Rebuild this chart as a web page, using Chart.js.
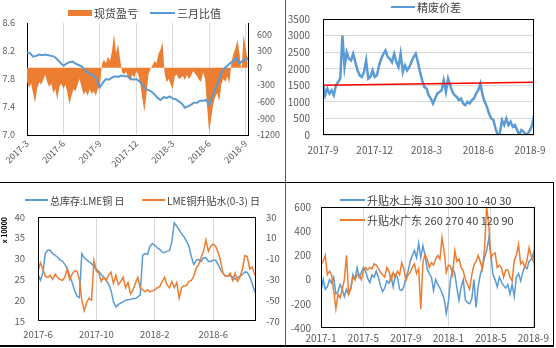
<!DOCTYPE html>
<html>
<head>
<meta charset="utf-8">
<script src="https://cdn.jsdelivr.net/npm/chart.js@4.4.0/dist/chart.umd.min.js"></script>
<style>
	body { margin: 0; background: #fff; }
	#hoja { position: relative; width: 556px; height: 348px; overflow: hidden; background: #fff; }
	.panel { position: absolute; overflow: hidden; }
	.linea { position: absolute; }
</style>
</head>
<body>
<div id="hoja">
	<div class="panel" style="left:0;top:0;width:285px;height:182px"><canvas id="g1" width="285" height="182"></canvas></div>
	<div class="panel" style="left:286px;top:0;width:270px;height:182px"><canvas id="g2" width="270" height="182"></canvas></div>
	<div class="panel" style="left:0;top:183px;width:285px;height:162px"><canvas id="g3" width="285" height="162"></canvas></div>
	<div class="panel" style="left:286px;top:183px;width:267px;height:162px"><canvas id="g4" width="267" height="162"></canvas></div>

	<!-- separadores entre paneles -->
	<div class="linea" style="left:285px;top:0;width:1px;height:346px;background:#595959"></div>
	<div class="linea" style="left:0;top:182px;width:554px;height:1px;background:#000"></div>
	<div class="linea" style="left:0;top:345px;width:554px;height:2px;background:#000"></div>
	<div class="linea" style="left:553px;top:182px;width:1px;height:164px;background:#000"></div>
</div>

<script>
	// ================= datos =================

	// Panel 1: 现货盈亏 (area, eje derecho) y 三月比值 (linea, eje izquierdo), 2017-3 a 2018-9
	const mesesP1 = ['2017-3', '2017-6', '2017-9', '2017-12', '2018-3', '2018-6', '2018-9']
	const ticksIzqP1 = [7.0, 7.4, 7.8, 8.2, 8.6]
	const ticksDerP1 = [-1200, -900, -600, -300, 0, 300, 600]
	const maxDerP1 = 800
	// 4 valores por mes
	const ratioP1 = [
		8.18, 8.17, 8.12, 8.13, 8.15, 8.14, 8.15, 8.14, 8.13, 8.12,
		8.08, 8.03, 7.99, 8.02, 8.04, 8.05, 8.02, 8.00, 7.98, 7.93,
		7.89, 7.87, 7.85, 7.79, 7.68, 7.75, 7.80, 7.79, 7.82, 7.84,
		7.83, 7.85, 7.84, 7.84, 7.81, 7.79, 7.80, 7.77, 7.72, 7.66,
		7.64, 7.62, 7.58, 7.53, 7.50, 7.54, 7.53, 7.55, 7.52, 7.51,
		7.48, 7.45, 7.39, 7.41, 7.43, 7.46, 7.46, 7.49, 7.49, 7.50,
		7.43, 7.55, 7.66, 7.75, 7.88, 7.95, 7.99, 8.03, 8.05, 8.10,
		8.02, 8.06, 8.08, 8.10
	]
	// 6 valores por mes
	const pnlP1 = [
		-250, -350, -280, -450, -620, -380, -260, -300, -220, -120,
		-260, -340, -280, -450, -380, -570, -330, -280, -380, -300,
		-450, -650, -500, -380, -420, -300, -200, -350, -480, -420,
		-500, -380, -470, -420, -500, -380, -340, 60, 150, 80,
		200, 120, 300, 600, 260, 420, 150, -80, -120, -60,
		-180, -240, -120, -180, -60, -120, -300, -550, -780, -480,
		-120, -20, 40, 120, 80, 250, 330, 450, -100, -260,
		-200, -300, -380, -150, -120, -200, -180, -140, -220, -130,
		-200, -150, -60, -100, -150, -220, -250, -80, -200, -700,
		-1150, -900, -650, -520, -450, -600, -300, -200, -250, -150,
		-280, 100, 250, 350, 500, 250, -80, 600, 350, 150
	]

	// Panel 2: 精废价差, 2017-9 a 2018-9, 8 valores por mes
	const mesesP2 = ['2017-9', '2017-12', '2018-3', '2018-6', '2018-9']
	const ticksP2 = [0, 500, 1000, 1500, 2000, 2500, 3000, 3500]
	const spreadP2 = [
		1550, 1200, 1400, 1250, 1350, 1200, 1500, 1600, 1700, 3000,
		2050, 2500, 2300, 2250, 2450, 2200, 1950, 1800, 1750, 1900,
		2250, 1700, 1750, 1950, 1750, 1800, 2100, 2300, 2450, 2550,
		2350, 2300, 2200, 2450, 2200, 2050, 2450, 1900, 2100, 1950,
		2050, 2200, 2350, 2450, 2200, 1900, 1650, 1450, 1400, 1200,
		1100, 950, 1100, 1250, 1300, 1350, 1650, 1300, 1700, 1500,
		1300, 1200, 1150, 1050, 1100, 950, 900, 1000, 950, 1050,
		1100, 1250, 1350, 1550, 1200, 1000, 850, 650, 500, 450,
		200, 0, 50, 450, 300, 500, 300, 400, 250, 300,
		150, 0, 150, 100, 0, 50, 150, 300, 650
	]
	const rojaP2 = [1500, 1590]
	const maxP2 = 12.23

	// Panel 3: 总库存:LME铜 (eje izq, x 10000) y LME铜升贴水(0-3) (eje der), 2017-6 a 2018-8, 6 valores por mes
	const mesesP3 = ['2017-6', '2017-10', '2018-2', '2018-6']
	const ticksIzqP3 = [15, 20, 25, 30, 35, 40]
	const ticksDerP3 = [-70, -50, -30, -10, 10, 30]
	const stockP3 = [
		26.2, 24.8, 26.6, 31.2, 32.0, 32.0, 31.2, 30.8, 30.4, 29.7,
		29.4, 28.6, 27.6, 25.8, 24.3, 22.4, 21.0, 20.6, 31.2, 30.2,
		29.7, 29.2, 28.8, 28.1, 27.4, 26.9, 26.2, 25.6, 24.8, 23.8,
		22.4, 19.6, 18.4, 19.0, 19.3, 19.6, 20.0, 20.1, 20.2, 20.4,
		20.4, 20.8, 21.2, 30.8, 31.2, 31.0, 33.0, 33.6, 33.2, 32.6,
		32.2, 31.6, 31.4, 31.8, 31.9, 34.0, 38.6, 37.8, 36.9, 36.0,
		35.2, 34.2, 33.0, 30.5, 28.6, 29.6, 29.8, 29.3, 30.2, 30.2,
		29.3, 29.3, 29.6, 29.6, 28.6, 27.3, 26.5, 25.8, 25.8, 25.8,
		25.6, 25.0, 25.4, 25.8, 26.2, 26.8, 26.7, 25.6, 24.0, 22.2,
		21.4
	]
	const basisP3 = [
		-22, -14, -20, -27, -28, -26, -30, -25, -28, -30,
		-31, -28, -20, -30, -25, -22, -22, -30, -50, -60,
		-52, -48, -50, -12, -22, -24, -32, -28, -31, -26,
		-23, -34, -26, -35, -32, -28, -38, -33, -44, -40,
		-34, -28, -38, -40, -42, -40, -42, -41, -40, -38,
		-37, -32, -28, -35, -38, -32, -38, -33, -48, -38,
		-36, -36, -32, -31, -27, -19, -16, -9, -3, 8,
		-3, 2, 4, 2, -4, -12, -24, -27, -27, -24,
		-31, -24, -32, -28, -20, -7, -8, -20, -18, -25,
		-22
	]
	const maxP3 = 14.93

	// Panel 4: 升贴水上海 y 升贴水广东, 2017-1 a 2018-9, 5 valores por mes
	const mesesP4 = ['2017-1', '2017-5', '2017-9', '2018-1', '2018-5', '2018-9']
	const ticksP4 = [-400, -200, 0, 200, 400, 600]
	const shanghaiP4 = [
		-93, 0, -80, -60, 0, -30, 20, -120, -100, -40,
		-80, -140, -80, -120, -70, 40, 0, 100, 20, 60,
		100, 70, 10, -25, 40, 20, 70, 20, -50, -100,
		-70, -10, -30, 30, -60, 40, 20, -80, -90, -60,
		20, 70, 150, 200, 240, 180, 300, 180, 280, 200,
		90, 50, 20, -90, 0, -40, -70, -110, -160, -280,
		-180, 0, 90, 50, -70, -170, -60, 0, -170, -190,
		-200, -160, 0, -230, -60, 40, 100, 180, 240, 340,
		200, 40, 0, -60, 20, -20, -50, -70, -40, -120,
		-40, -140, 20, 50, -10, 60, 110, 90, 150, 170,
		220, 60
	]
	const guangdongP4 = [
		126, 150, 200, 40, 70, 40, -100, -240, -120, -150,
		-80, 0, 200, -120, -80, 20, 0, 40, 40, 0,
		70, 100, 80, 100, 90, 130, 120, 90, 60, 40,
		20, 100, 70, -10, 60, 20, 70, 40, 140, 90,
		-10, 40, 60, 100, 130, 50, 90, -244, 140, 210,
		170, 100, 140, 120, 170, 200, 170, 345, 230, 60,
		120, 110, 40, 240, 150, 170, 100, 70, 0, -40,
		-80, 40, 120, 150, 200, 150, 90, 250, 606, 450,
		180, 210, 220, 100, 120, 100, 20, 80, 80, 20,
		-10, 160, 200, 290, 130, 150, 100, 160, 263, 190,
		150, 120
	]
	const maxP4 = 20.15

	// ================= estilo general =================
	Chart.defaults.font.family = "'Noto Sans CJK SC', 'Noto Sans', sans-serif"
	Chart.defaults.color = '#595959'
	Chart.defaults.animation = false

	const azul = '#5B9BD5'
	const naranja = '#ED7D31'
	const rejilla = '#D9D9D9'

	// pasa los valores a puntos {x: mes, y: valor}
	function puntos(valores, porMes) {
		return valores.map((v, i) => ({x: i / porMes, y: v}))
	}

	// eje x en meses con etiquetas fijas cada "paso" meses
	function ejeX(etiquetas, paso, max, alto, relleno, tam, conRejilla) {
		return {
			type: 'linear', min: 0, max: max,
			afterBuildTicks: s => { s.ticks = etiquetas.map((t, i) => ({value: i * paso})) },
			afterFit: s => { s.height = alto },
			ticks: { callback: (v, i) => etiquetas[i], padding: relleno, font: {size: tam}, autoSkip: false, maxRotation: 0 },
			grid: { display: conRejilla, color: rejilla, drawTicks: false },
			border: { display: false }
		}
	}

	// eje y con ticks fijos
	function ejeY(valores, pos, ancho, relleno, tam, decimales, conRejilla) {
		return {
			type: 'linear', position: pos,
			min: valores[0], max: valores[valores.length - 1],
			afterBuildTicks: s => { s.ticks = valores.map(v => ({value: v})) },
			afterFit: s => { s.width = ancho },
			ticks: { callback: v => v.toFixed(decimales), padding: relleno, font: {size: tam} },
			grid: { display: conRejilla, color: rejilla, drawTicks: false },
			border: { display: false }
		}
	}

	// recuadro negro alrededor del area de trazado
	const marco = {
		id: 'marco',
		afterDatasetsDraw(chart) {
			const {ctx, chartArea: a} = chart
			ctx.save()
			ctx.strokeStyle = '#000'
			ctx.lineWidth = 1
			ctx.strokeRect(Math.round(a.left) + 0.5, Math.round(a.top) + 0.5, Math.round(a.right - a.left) - 1, Math.round(a.bottom - a.top) - 1)
			ctx.restore()
		}
	}

	// leyenda dibujada en posiciones fijas como en la imagen
	const leyenda = {
		id: 'leyenda',
		afterDraw(chart, args, opts) {
			const ctx = chart.ctx
			ctx.save()
			ctx.font = opts.font
			ctx.textBaseline = 'middle'
			opts.items.forEach(it => {
				if (it.caja) {
					ctx.fillStyle = it.color
					ctx.fillRect(it.x, it.y - 3, it.largo, 6)
				} else {
					ctx.strokeStyle = it.color
					ctx.lineWidth = 2
					ctx.beginPath()
					ctx.moveTo(it.x, it.y)
					ctx.lineTo(it.x + it.largo, it.y)
					ctx.stroke()
				}
				ctx.fillStyle = '#404040'
				ctx.fillText(it.texto, it.x + it.largo + 2, it.y + 1)
			})
			ctx.restore()
		}
	}

	function linea(datos, color, ancho, eje, orden) {
		return { data: datos, borderColor: color, backgroundColor: color, borderWidth: ancho,
			pointRadius: 0, tension: 0, yAxisID: eje, order: orden }
	}

	// ================= panel 1 =================
	const x1 = ejeX(mesesP1, 3, 18.2, 47, 3, 9, true)
	x1.ticks.minRotation = 45
	x1.ticks.maxRotation = 45
	x1.border = { display: true, color: '#000' }
	const y1 = ejeY(ticksIzqP1, 'left', 27, 12, 9, 1, false)
	y1.border = { display: true, color: '#000' }
	const y1d = ejeY(ticksDerP1, 'right', 37, 9, 9, 0, false)
	y1d.max = maxDerP1
	y1d.border = { display: true, color: '#000' }

	new Chart(document.querySelector('#g1'), {
		type: 'line',
		data: { datasets: [
			linea(puntos(ratioP1, 4), azul, 2, 'y', 0),
			Object.assign(linea(puntos(pnlP1, 6), naranja, 0, 'y1', 1), { fill: 'origin' })
		]},
		options: {
			responsive: false,
			layout: { autoPadding: false, padding: { top: 23, left: 0, right: 0, bottom: 0 } },
			scales: { x: x1, y: y1, y1: y1d },
			plugins: {
				legend: { display: false }, tooltip: { enabled: false },
				leyenda: { font: "11px 'Noto Sans CJK SC'", items: [
					{ caja: true, color: naranja, x: 68, y: 13, largo: 24, texto: '现货盈亏' },
					{ color: azul, x: 150, y: 13, largo: 25, texto: '三月比值' }
				]}
			}
		},
		plugins: [leyenda]
	})

	// ================= panel 2 =================
	new Chart(document.querySelector('#g2'), {
		type: 'line',
		data: { datasets: [
			linea(puntos(spreadP2, 8), azul, 2.5, 'y', 1),
			linea(rojaP2.map((v, i) => ({x: i * maxP2 / (rojaP2.length - 1), y: v})), '#FF0000', 1.5, 'y', 0)
		]},
		options: {
			responsive: false,
			layout: { autoPadding: false, padding: { top: 16, left: 0, right: 22, bottom: 0 } },
			scales: {
				x: ejeX(mesesP2, 3, maxP2, 47, 9, 10, false),
				y: ejeY(ticksP2, 'left', 37, 13, 10, 0, true)
			},
			plugins: {
				legend: { display: false }, tooltip: { enabled: false },
				leyenda: { font: "11px 'Noto Sans CJK SC'", items: [
					{ color: azul, x: 105, y: 7, largo: 24, texto: '精废价差' }
				]}
			}
		},
		plugins: [marco, leyenda]
	})

	// ================= panel 3 =================
	const y3 = ejeY(ticksIzqP3, 'left', 38, 13, 9.5, 0, false)
	y3.title = { display: true, text: 'x 10000', align: 'end', color: '#000', font: { size: 7, weight: 'bold' }, padding: 0 }

	new Chart(document.querySelector('#g3'), {
		type: 'line',
		data: { datasets: [
			linea(puntos(stockP3, 6), azul, 1.5, 'y', 1),
			linea(puntos(basisP3, 6), naranja, 1.5, 'y1', 0)
		]},
		options: {
			responsive: false,
			layout: { autoPadding: false, padding: { top: 34, left: 0, right: 0, bottom: 0 } },
			scales: {
				x: ejeX(mesesP3, 4, maxP3, 24, 8, 9.5, true),
				y: y3,
				y1: ejeY(ticksDerP3, 'right', 29, 10, 9.5, 0, false)
			},
			plugins: {
				legend: { display: false }, tooltip: { enabled: false },
				leyenda: { font: "10px 'Noto Sans CJK SC'", items: [
					{ color: azul, x: 25, y: 17, largo: 23, texto: '总库存:LME铜 日' },
					{ color: naranja, x: 142, y: 17, largo: 23, texto: 'LME铜升贴水(0-3) 日' }
				]}
			}
		},
		plugins: [marco, leyenda]
	})

	// ================= panel 4 =================
	new Chart(document.querySelector('#g4'), {
		type: 'line',
		data: { datasets: [
			linea(puntos(shanghaiP4, 5), azul, 1.5, 'y', 1),
			linea(puntos(guangdongP4, 5), naranja, 1.5, 'y', 0)
		]},
		options: {
			responsive: false,
			layout: { autoPadding: false, padding: { top: 24, left: 0, right: 5, bottom: 0 } },
			scales: {
				x: ejeX(mesesP4, 4, maxP4, 17, 4, 10, true),
				y: ejeY(ticksP4, 'left', 35, 10, 10, 0, false)
			},
			plugins: {
				legend: { display: false }, tooltip: { enabled: false },
				leyenda: { font: "11px 'Noto Sans CJK SC'", items: [
					{ color: azul, x: 54, y: 17, largo: 25, texto: '升贴水上海 310 300 10 -40 30' },
					{ color: naranja, x: 54, y: 37, largo: 25, texto: '升贴水广东 260 270 40 120 90' }
				]}
			}
		},
		plugins: [marco, leyenda]
	})
</script>
</body>
</html>
